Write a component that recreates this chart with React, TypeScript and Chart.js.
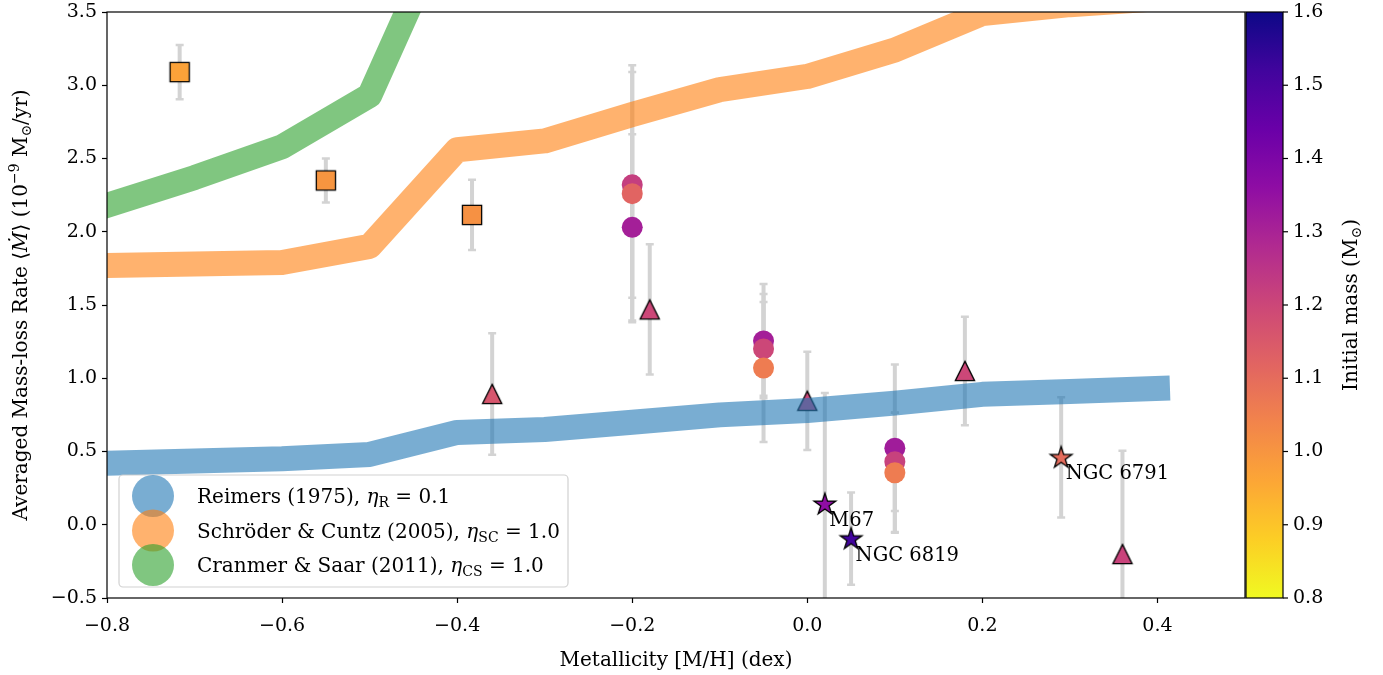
import React, { useEffect, useRef } from 'react';
import { Chart, registerables } from 'chart.js';

Chart.register(...registerables);

// ---------------- data ----------------
const metallicityGrid = [-0.8, -0.7, -0.6, -0.5, -0.4, -0.3, -0.2, -0.1, 0.0, 0.1, 0.2, 0.3, 0.4];
const reimersRate = [0.42, 0.435, 0.45, 0.48, 0.63, 0.65, 0.7, 0.75, 0.78, 0.83, 0.89, 0.91, 0.93];
const schroderRate = [1.77, 1.78, 1.79, 1.9, 2.56, 2.62, 2.8, 2.97, 3.06, 3.24, 3.49, 3.55, 3.59];
const cranmerGrid = [-0.8, -0.7, -0.6, -0.5, -0.4];
const cranmerRate = [2.18, 2.37, 2.58, 2.93, 4.26];

const modelNames = ['Reimers (1975), ', 'Schröder & Cuntz (2005), ', 'Cranmer & Saar (2011), '];
const modelEtaSub = ['R', 'SC', 'CS'];
const modelEtaValue = ['0.1', '1.0', '1.0'];

// squares
const squareX = [-0.717, -0.55, -0.383];
const squareY = [3.09, 2.35, 2.115];
const squareErr = [0.185, 0.15, 0.24];
const squareMass = [0.97, 1.0, 1.01];

// circles
const circleX = [-0.2, -0.2, -0.2, -0.05, -0.05, -0.05, 0.1, 0.1, 0.1];
const circleY = [2.32, 2.26, 2.03, 1.254, 1.2, 1.07, 0.522, 0.43, 0.355];
const circleErr = [0.77, 0.877, 0.635, 0.39, 0.32, 0.505, 0.572, 0.336, 0.41];
const circleMass = [1.224, 1.12, 1.31, 1.31, 1.2, 1.06, 1.32, 1.215, 1.06];

// triangles
const triangleX = [-0.36, -0.18, 0.0, 0.18, 0.36];
const triangleY = [0.893, 1.47, 0.846, 1.05, -0.2];
const triangleErr = [0.415, 0.445, 0.335, 0.37, 0.705];
const triangleMass = [1.16, 1.2, 1.2, 1.2, 1.21];

// clusters (stars)
const clusterNames = ['M67', 'NGC 6819', 'NGC 6791'];
const clusterX = [0.02, 0.05, 0.29];
const clusterY = [0.142, -0.095, 0.46];
const clusterErr = [0.757, 0.315, 0.41];
const clusterMass = [1.36, 1.52, 1.1];

const xTicks = [-0.8, -0.6, -0.4, -0.2, 0.0, 0.2, 0.4];
const yTicks = [-0.5, 0.0, 0.5, 1.0, 1.5, 2.0, 2.5, 3.0, 3.5];
const massTicks = [0.8, 0.9, 1.0, 1.1, 1.2, 1.3, 1.4, 1.5, 1.6];

// ---------------- styles ----------------
const FONT = "'DejaVu Serif', 'DejaVu Sans', serif";
const modelColors = ['rgba(31,119,180,0.6)', 'rgba(255,127,14,0.6)', 'rgba(44,160,44,0.6)'];
const PLASMA_STOPS = ['#0d0887', '#41049d', '#6a00a8', '#8f0da4', '#b12a90', '#cc4778', '#e16462', '#f2844b', '#fca636', '#fcce25', '#f0f921'];
const MASS_MIN = massTicks[0];
const MASS_MAX = massTicks[massTicks.length - 1];

function hexToRgb(h: string) {
  const n = parseInt(h.slice(1), 16);
  return [(n >> 16) & 255, (n >> 8) & 255, n & 255];
}
function plasma(t: number) {
  const c = Math.max(0, Math.min(1, t)) * 10;
  const i = Math.min(9, Math.floor(c));
  const f = c - i;
  const a = hexToRgb(PLASMA_STOPS[i]);
  const b = hexToRgb(PLASMA_STOPS[i + 1]);
  const r = a.map((v, k) => Math.round(v + (b[k] - v) * f));
  return `rgb(${r[0]},${r[1]},${r[2]})`;
}
function massColor(m: number) {
  return plasma((MASS_MAX - m) / (MASS_MAX - MASS_MIN));
}

function markerCanvas(shape: 'square' | 'triangle' | 'star', fill: string) {
  const size = 30;
  const c = document.createElement('canvas');
  c.width = size;
  c.height = size;
  const g = c.getContext('2d')!;
  const cx = size / 2;
  const cy = size / 2;
  g.beginPath();
  if (shape === 'square') {
    const h = 9.6;
    g.rect(cx - h, cy - h, 2 * h, 2 * h);
  } else if (shape === 'triangle') {
    const h = 9.6;
    g.moveTo(cx, cy - h);
    g.lineTo(cx + h, cy + h);
    g.lineTo(cx - h, cy + h);
    g.closePath();
  } else {
    const R = 11.4;
    const r = R * 0.381966;
    for (let k = 0; k < 10; k++) {
      const ang = -Math.PI / 2 + (k * Math.PI) / 5;
      const rad = k % 2 === 0 ? R : r;
      const px = cx + rad * Math.cos(ang);
      const py = cy + 0.6 + rad * Math.sin(ang);
      if (k === 0) g.moveTo(px, py);
      else g.lineTo(px, py);
    }
    g.closePath();
  }
  g.fillStyle = fill;
  g.fill();
  g.lineWidth = 1.3;
  g.strokeStyle = '#000';
  g.lineJoin = 'miter';
  g.stroke();
  return c;
}

type Seg = { t: string; it?: boolean; sc?: number; dy?: number };
function segFont(size: number, s: Seg) {
  return `${s.it ? 'italic ' : ''}${(size * (s.sc ?? 1)).toFixed(1)}px ${FONT}`;
}
function drawRich(ctx: CanvasRenderingContext2D, segs: Seg[], x: number, y: number, size: number, align: 'left' | 'center') {
  ctx.textAlign = 'left';
  ctx.textBaseline = 'alphabetic';
  const widths = segs.map((s) => {
    ctx.font = segFont(size, s);
    return ctx.measureText(s.t).width;
  });
  const total = widths.reduce((a, b) => a + b, 0);
  let cx = align === 'center' ? x - total / 2 : x;
  segs.forEach((s, i) => {
    ctx.font = segFont(size, s);
    ctx.fillText(s.t, cx, y + (s.dy ?? 0) * size);
    cx += widths[i];
  });
}

const SUB = { sc: 0.7, dy: 0.22 };
const SUP = { sc: 0.7, dy: -0.38 };

const errorGroups = [
  { x: squareX, y: squareY, e: squareErr },
  { x: circleX, y: circleY, e: circleErr },
  { x: triangleX, y: triangleY, e: triangleErr },
  { x: clusterX, y: clusterY, e: clusterErr },
];

const overlayPlugin = {
  id: 'overlay',
  beforeDatasetsDraw(chart: any) {
    const { ctx, chartArea: ca, scales } = chart;
    const xs = scales.x;
    const ys = scales.y;
    ctx.save();
    ctx.beginPath();
    ctx.rect(ca.left, ca.top, ca.right - ca.left, ca.bottom - ca.top);
    ctx.clip();
    ctx.strokeStyle = '#d3d3d3';
    ctx.lineCap = 'butt';
    errorGroups.forEach((g) => {
      g.x.forEach((xv, i) => {
        const px = xs.getPixelForValue(xv);
        const top = ys.getPixelForValue(g.y[i] + g.e[i]);
        const bot = ys.getPixelForValue(g.y[i] - g.e[i]);
        ctx.lineWidth = 4;
        ctx.beginPath();
        ctx.moveTo(px, top);
        ctx.lineTo(px, bot);
        ctx.stroke();
        ctx.lineWidth = 2.5;
        ctx.beginPath();
        ctx.moveTo(px - 4, top);
        ctx.lineTo(px + 4, top);
        ctx.moveTo(px - 4, bot);
        ctx.lineTo(px + 4, bot);
        ctx.stroke();
      });
    });
    ctx.restore();
  },
  afterDatasetsDraw(chart: any) {
    const { ctx, chartArea: ca, scales } = chart;
    const xs = scales.x;
    const ys = scales.y;
    ctx.save();

    // spines
    ctx.strokeStyle = '#000';
    ctx.lineWidth = 1.2;
    ctx.strokeRect(ca.left, ca.top, ca.right - ca.left, ca.bottom - ca.top);

    // cluster annotations
    ctx.fillStyle = '#000';
    ctx.font = `19.5px ${FONT}`;
    ctx.textAlign = 'left';
    ctx.textBaseline = 'alphabetic';
    clusterNames.forEach((n, i) => {
      const px = xs.getPixelForValue(clusterX[i]);
      const py = ys.getPixelForValue(clusterY[i]);
      ctx.fillText(n, px + 4.5, py + 22);
    });

    // colorbar
    const cb = scales.cb;
    let yTop = cb.getPixelForValue(MASS_MAX);
    let yBot = cb.getPixelForValue(MASS_MIN);
    if (!isFinite(yTop) || !isFinite(yBot)) {
      yTop = ca.top;
      yBot = ca.bottom;
    }
    const x0 = ca.right + 1;
    const x1 = ca.right + 38;
    const grad = ctx.createLinearGradient(0, yBot, 0, yTop);
    for (let k = 0; k <= 10; k++) grad.addColorStop(k / 10, PLASMA_STOPS[10 - k]);
    ctx.fillStyle = grad;
    ctx.fillRect(x0, yTop, x1 - x0, yBot - yTop);
    ctx.strokeStyle = '#000';
    ctx.lineWidth = 1.2;
    ctx.strokeRect(x0, yTop, x1 - x0, yBot - yTop);
    ctx.fillStyle = '#000';
    ctx.font = `19px ${FONT}`;
    ctx.textBaseline = 'middle';
    ctx.textAlign = 'left';
    massTicks.forEach((m) => {
      const py = isFinite(cb.getPixelForValue(m)) ? cb.getPixelForValue(m) : yBot + ((m - MASS_MIN) / (MASS_MAX - MASS_MIN)) * (yTop - yBot);
      ctx.beginPath();
      ctx.moveTo(x1, py);
      ctx.lineTo(x1 + 5, py);
      ctx.stroke();
      ctx.fillText(m.toFixed(1), x1 + 10, py);
    });

    // colorbar label
    ctx.save();
    ctx.translate(1350, (ca.top + ca.bottom) / 2);
    ctx.rotate(-Math.PI / 2);
    drawRich(ctx, [{ t: 'Initial mass (M' }, { t: '⊙', ...SUB }, { t: ')' }], 0, 7, 20, 'center');
    ctx.restore();

    // y title
    ctx.save();
    ctx.translate(20, (ca.top + ca.bottom) / 2);
    ctx.rotate(-Math.PI / 2);
    drawRich(
      ctx,
      [
        { t: 'Averaged Mass-loss Rate ' },
        { t: '⟨' },
        { t: 'Ṁ', it: true },
        { t: '⟩' },
        { t: ' (10' },
        { t: '−9', ...SUP },
        { t: ' M' },
        { t: '⊙', ...SUB },
        { t: '/yr)' },
      ],
      0,
      7,
      20,
      'center'
    );
    ctx.restore();

    // x title
    drawRich(ctx, [{ t: 'Metallicity [M/H] (dex)' }], (ca.left + ca.right) / 2, 666, 20, 'center');

    // legend
    const lx = ca.left + 12;
    const lw = 449;
    const lh = 112;
    const ly = ca.bottom - 11 - lh;
    ctx.beginPath();
    ctx.roundRect(lx, ly, lw, lh, 4);
    ctx.fillStyle = 'rgba(255,255,255,0.8)';
    ctx.fill();
    ctx.strokeStyle = 'rgba(204,204,204,0.9)';
    ctx.lineWidth = 1.2;
    ctx.stroke();
    modelNames.forEach((name, i) => {
      const cy = ly + 21 + i * 34.5;
      ctx.beginPath();
      ctx.arc(ca.left + 46, cy, 21, 0, Math.PI * 2);
      ctx.fillStyle = modelColors[i];
      ctx.fill();
      ctx.fillStyle = '#000';
      drawRich(
        ctx,
        [{ t: name }, { t: 'η', it: true }, { t: modelEtaSub[i], ...SUB }, { t: ' = ' + modelEtaValue[i] }],
        ca.left + 90,
        cy + 7,
        20,
        'left'
      );
    });

    ctx.restore();
  },
};

function fmtTick(v: number) {
  const s = Math.abs(v).toFixed(1);
  return v < -1e-9 ? '−' + s : s;
}

export default function App() {
  const ref = useRef<HTMLCanvasElement>(null);
  useEffect(() => {
    const canvas = ref.current!;
    Chart.defaults.font.family = FONT;

    const lineDs = (label: string, xsArr: number[], ysArr: number[], color: string) => ({
      type: 'line' as const,
      label,
      data: xsArr.map((x, i) => ({ x, y: ysArr[i] })),
      borderColor: color,
      backgroundColor: color,
      borderWidth: 25,
      borderJoinStyle: 'round' as const,
      borderCapStyle: 'square' as const,
      pointRadius: 0,
      tension: 0,
      fill: false,
      clip: 0,
      order: 0,
    });

    const chart = new Chart(canvas, {
      type: 'scatter',
      data: {
        datasets: [
          lineDs('Reimers (1975)', metallicityGrid, reimersRate, modelColors[0]),
          lineDs('Schröder & Cuntz (2005)', metallicityGrid, schroderRate, modelColors[1]),
          lineDs('Cranmer & Saar (2011)', cranmerGrid, cranmerRate, modelColors[2]),
          {
            type: 'scatter',
            label: 'clusters',
            data: clusterX.map((x, i) => ({ x, y: clusterY[i] })),
            pointStyle: clusterMass.map((m) => markerCanvas('star', massColor(m))),
            pointRadius: 10,
            order: 1,
          },
          {
            type: 'scatter',
            label: 'triangles',
            data: triangleX.map((x, i) => ({ x, y: triangleY[i] })),
            pointStyle: triangleMass.map((m) => markerCanvas('triangle', massColor(m))),
            pointRadius: 10,
            order: 1,
          },
          {
            type: 'scatter',
            label: 'circles',
            data: circleX.map((x, i) => ({ x, y: circleY[i] })),
            pointStyle: 'circle',
            pointRadius: 10.5,
            borderWidth: 0,
            backgroundColor: circleMass.map((m) => massColor(m)),
            borderColor: circleMass.map((m) => massColor(m)),
            order: 1,
          },
          {
            type: 'scatter',
            label: 'squares',
            data: squareX.map((x, i) => ({ x, y: squareY[i] })),
            pointStyle: squareMass.map((m) => markerCanvas('square', massColor(m))),
            pointRadius: 10,
            order: 1,
          },
        ],
      } as any,
      options: {
        animation: false,
        responsive: false,
        events: [],
        layout: { padding: { left: 0, right: 138, top: 12, bottom: 0 } },
        plugins: { legend: { display: false }, tooltip: { enabled: false } },
        scales: {
          x: {
            type: 'linear',
            min: -0.8,
            max: 0.5,
            afterBuildTicks: (s: any) => {
              s.ticks = xTicks.map((v) => ({ value: v }));
            },
            afterFit: (s: any) => {
              s.height = 77;
              s.paddingLeft = 0;
              s.paddingRight = 0;
            },
            ticks: {
              font: { family: FONT, size: 19 },
              color: '#000',
              padding: 12,
              maxRotation: 0,
              autoSkip: false,
              callback: (v: any) => fmtTick(Number(v)),
            },
            grid: { drawOnChartArea: false, drawTicks: true, tickLength: 5, tickColor: '#000', tickWidth: 1.2 },
            border: { display: false },
          },
          y: {
            type: 'linear',
            min: -0.5,
            max: 3.5,
            afterBuildTicks: (s: any) => {
              s.ticks = yTicks.map((v) => ({ value: v }));
            },
            afterFit: (s: any) => {
              s.width = 107;
              s.paddingTop = 0;
              s.paddingBottom = 0;
            },
            ticks: {
              font: { family: FONT, size: 19 },
              color: '#000',
              padding: 5,
              autoSkip: false,
              callback: (v: any) => fmtTick(Number(v)),
            },
            grid: { drawOnChartArea: false, drawTicks: true, tickLength: 5, tickColor: '#000', tickWidth: 1.2 },
            border: { display: false },
          },
          cb: {
            type: 'linear',
            display: false,
            position: 'right',
            min: MASS_MIN,
            max: MASS_MAX,
          },
        },
      } as any,
      plugins: [overlayPlugin],
    });
    return () => chart.destroy();
  }, []);

  return (
    <div style={{ position: 'fixed', left: 0, top: 0, width: 1383, height: 675, background: '#fff' }}>
      <canvas ref={ref} width={1383} height={675} style={{ display: 'block', width: 1383, height: 675 }} />
    </div>
  );
}
